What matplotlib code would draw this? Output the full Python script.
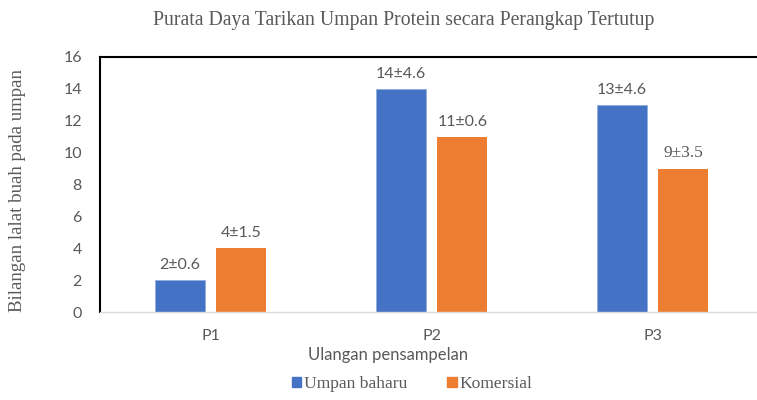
import matplotlib
matplotlib.use("Agg")
import matplotlib.pyplot as plt
import numpy as np
from matplotlib.patches import Patch

categories = ["P1", "P2", "P3"]
series_names = ["Umpan baharu", "Komersial"]
umpan_baharu = [2, 14, 13]
komersial = [4, 11, 9]
labels_baharu = ["2±0.6", "14±4.6", "13±4.6"]
labels_komersial = ["4±1.5", "11±0.6", "9±3.5"]
yticks = [0, 2, 4, 6, 8, 10, 12, 14, 16]

BLUE = "#4472C4"
ORANGE = "#ED7D31"
GREY = "#595959"
SERIF = "Liberation Serif"
SANS = "Lato"

fig = plt.figure(figsize=(7.57, 4.0), dpi=100)
ax = fig.add_axes([100/757, 1-312/400, 663/757, (312-57)/400])

x = np.arange(len(categories))
w = 0.226
off = 0.14
b1 = ax.bar(x - off, umpan_baharu, w, color=BLUE, edgecolor="#8FAADC", linewidth=0.5)
b2 = ax.bar(x + off, komersial, w, color=ORANGE)

for rect, lab in zip(b1, labels_baharu):
    ax.text(rect.get_x() + rect.get_width()/2, rect.get_height() + 0.5, lab,
            ha="center", va="bottom", fontsize=11.5, color=GREY, family=SANS)
fams = [SANS, SANS, SERIF]
for rect, lab, f in zip(b2, labels_komersial, fams):
    ax.text(rect.get_x() + rect.get_width()/2, rect.get_height() + 0.5, lab,
            ha="center", va="bottom", fontsize=12.5 if f == SERIF else 11.5, color=GREY, family=f)

ax.set_xlim(-0.5, 2.5)
ax.set_ylim(0, 16)
ax.set_yticks(yticks)
ax.set_yticklabels([str(v) for v in yticks], family=SANS, fontsize=11.5, color=GREY)
ax.set_xticks(x)
ax.set_xticklabels(categories, family=SANS, fontsize=11.5, color=GREY)
ax.tick_params(axis="both", length=0)
ax.tick_params(axis="x", pad=12)
ax.tick_params(axis="y", pad=13)

ax.spines["right"].set_visible(False)
ax.spines["top"].set_color("black")
ax.spines["top"].set_linewidth(1.5)
ax.spines["left"].set_color("black")
ax.spines["left"].set_linewidth(1.5)
ax.spines["bottom"].set_color("#D9D9D9")
ax.spines["bottom"].set_linewidth(1.0)

fig.text(404/757, 1-20/400, "Purata Daya Tarikan Umpan Protein secara Perangkap Tertutup",
         ha="center", va="center", fontsize=14.2, color=GREY, family=SERIF)
fig.text(18/757, 1-190/400, "Bilangan lalat buah pada umpan", rotation=90,
         ha="center", va="center", fontsize=13.6, color=GREY, family=SERIF)
fig.text(388/757, 1-355/400, "Ulangan pensampelan", ha="center", va="center",
         fontsize=12, color=GREY, family=SANS)

handles = [Patch(color=BLUE), Patch(color=ORANGE)]
leg = fig.legend(handles, series_names, loc="center", bbox_to_anchor=(412/757, 1-384/400),
                 ncol=2, frameon=False, handlelength=0.55, handleheight=0.55,
                 handletextpad=0.15, columnspacing=2.3,
                 prop={"family": SERIF, "size": 12.6})
for t in leg.get_texts():
    t.set_color(GREY)

fig.savefig("out.png", dpi=100)
